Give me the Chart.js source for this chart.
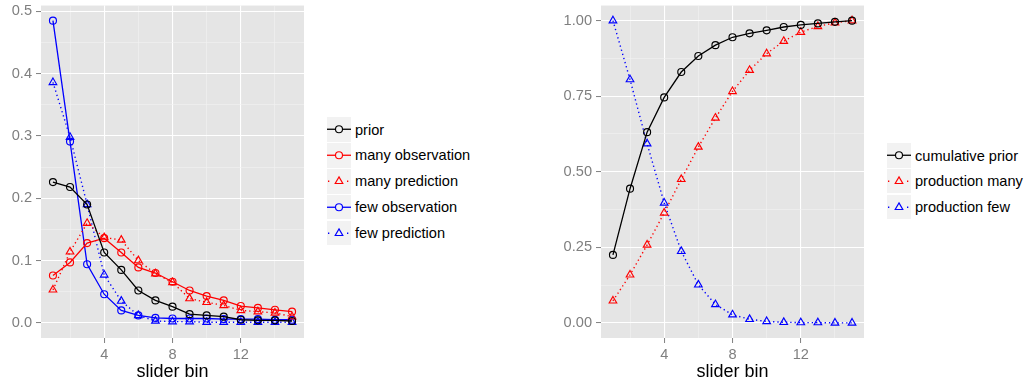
<!DOCTYPE html>
<html>
<head>
<meta charset="utf-8">
<script src="https://cdn.jsdelivr.net/npm/chart.js@4.4.0/dist/chart.umd.min.js"></script>
<style>
  html, body { margin: 0; padding: 0; background: #fff; }
  body { width: 1027px; height: 383px; position: relative; overflow: hidden; font-family: "Liberation Sans", Arial, sans-serif; }
  .cw { position: absolute; top: 0; height: 383px; }
  .legend-row { position: absolute; height: 25px; display: flex; align-items: center; }
  .key { width: 24px; height: 24.5px; background: #F2F2F2; }
  .key svg { display: block; }
  .lbl { margin-left: 4px; font-size: 14.6px; color: #000; white-space: nowrap; }
</style>
</head>
<body>
<div class="cw" style="left:0px;width:320px;"><canvas id="left"></canvas></div>
<div class="cw" style="left:555px;width:325px;"><canvas id="right"></canvas></div>
<div id="legendLeft"></div>
<div id="legendRight"></div>
<script>
// ---- data ----
const bins = [1, 2, 3, 4, 5, 6, 7, 8, 9, 10, 11, 12, 13, 14, 15];
const prior           = [0.226, 0.218, 0.190, 0.113, 0.085, 0.052, 0.036, 0.026, 0.014, 0.012, 0.010, 0.005, 0.004, 0.004, 0.003];
const manyObservation = [0.076, 0.097, 0.128, 0.136, 0.113, 0.089, 0.080, 0.066, 0.052, 0.043, 0.036, 0.027, 0.024, 0.021, 0.018];
const manyPrediction  = [0.053, 0.114, 0.160, 0.137, 0.133, 0.100, 0.079, 0.065, 0.039, 0.033, 0.028, 0.020, 0.018, 0.016, 0.010];
const fewObservation  = [0.485, 0.291, 0.094, 0.046, 0.020, 0.012, 0.008, 0.007, 0.007, 0.007, 0.006, 0.006, 0.006, 0.005, 0.005];
const fewPrediction   = [0.386, 0.298, 0.190, 0.077, 0.035, 0.012, 0.003, 0.002, 0.002, 0.001, 0.001, 0.001, 0.001, 0.001, 0.001];

const cumulativePrior = [0.225, 0.444, 0.631, 0.746, 0.830, 0.883, 0.919, 0.945, 0.958, 0.968, 0.979, 0.986, 0.991, 0.996, 1.000];
const productionMany  = [0.073, 0.159, 0.258, 0.364, 0.475, 0.582, 0.678, 0.766, 0.836, 0.891, 0.932, 0.962, 0.981, 0.993, 1.000];
const productionFew   = [1.000, 0.805, 0.593, 0.397, 0.237, 0.126, 0.061, 0.027, 0.012, 0.005, 0.002, 0.001, 0.001, 0.000, 0.000];

const xTicks = [2, 4, 6, 8, 10, 12, 14];
const yTicksLeft = [0, 0.05, 0.1, 0.15, 0.2, 0.25, 0.3, 0.35, 0.4, 0.45, 0.5];
const yTicksRight = [0, 0.125, 0.25, 0.375, 0.5, 0.625, 0.75, 0.875, 1.0];

const leftSeries = [
  { label: 'prior', values: prior, color: '#000000', dotted: false, shape: 'circle' },
  { label: 'many observation', values: manyObservation, color: '#FF0000', dotted: false, shape: 'circle' },
  { label: 'many prediction', values: manyPrediction, color: '#FF0000', dotted: true, shape: 'triangle' },
  { label: 'few observation', values: fewObservation, color: '#0000FF', dotted: false, shape: 'circle' },
  { label: 'few prediction', values: fewPrediction, color: '#0000FF', dotted: true, shape: 'triangle' }
];
const rightSeries = [
  { label: 'cumulative prior', values: cumulativePrior, color: '#000000', dotted: false, shape: 'circle' },
  { label: 'production many', values: productionMany, color: '#FF0000', dotted: true, shape: 'triangle' },
  { label: 'production few', values: productionFew, color: '#0000FF', dotted: true, shape: 'triangle' }
];

const FONT = '"Liberation Sans", Arial, sans-serif';
const TICKCOL = '#7F7F7F';

const panelBg = {
  id: 'panelBg',
  beforeDraw(chart) {
    const a = chart.chartArea, c = chart.ctx;
    c.save(); c.fillStyle = '#E5E5E5';
    c.fillRect(a.left, a.top, a.right - a.left, a.bottom - a.top);
    c.restore();
  }
};

function makeDatasets(series) {
  return series.map(s => ({
    label: s.label,
    data: bins.map((b, i) => ({ x: b, y: s.values[i] })),
    borderColor: s.color,
    backgroundColor: 'rgba(0,0,0,0)',
    borderWidth: s.dotted ? 1.4 : 1.3,
    borderDash: s.dotted ? [1.3, 3] : [],
    pointStyle: s.shape,
    pointRadius: s.shape === 'triangle' ? 4.4 : 3.5,
    pointBorderWidth: 1.15,
    pointBorderColor: s.color,
    pointBackgroundColor: 'rgba(0,0,0,0)',
    pointHoverRadius: 4,
    tension: 0,
    showLine: true,
    fill: false
  }));
}

function makeChart(id, series, yMin, yMax, yTicks, isMajorY, fmtY, yWidth) {
  const isMajorX = v => v % 4 === 0;
  return new Chart(document.getElementById(id), {
    type: 'scatter',
    data: { datasets: makeDatasets(series) },
    plugins: [panelBg],
    options: {
      responsive: true,
      maintainAspectRatio: false,
      animation: false,
      layout: { padding: { top: 5, right: 16, bottom: 0, left: 0 } },
      plugins: { legend: { display: false }, tooltip: { enabled: false } },
      scales: {
        x: {
          type: 'linear', min: 0.3, max: 15.7,
          afterBuildTicks: s => { s.ticks = xTicks.map(v => ({ value: v })); },
          afterFit: s => { s.height = 45; s.paddingLeft = 0; s.paddingRight = 0; },
          border: { display: false },
          grid: {
            color: ctx => isMajorX(ctx.tick.value) ? '#FFFFFF' : '#F2F2F2',
            lineWidth: ctx => isMajorX(ctx.tick.value) ? 1.1 : 0.6,
            tickColor: ctx => isMajorX(ctx.tick.value) ? TICKCOL : 'rgba(0,0,0,0)',
            tickLength: 5, tickWidth: 1
          },
          ticks: {
            autoSkip: false, maxRotation: 0, padding: 3,
            color: TICKCOL, font: { family: FONT, size: 14.6 },
            callback: v => isMajorX(v) ? String(v) : ''
          },
          title: { display: true, text: 'slider bin', color: '#000', font: { family: FONT, size: 18 }, padding: { top: 0, bottom: 0 } }
        },
        y: {
          type: 'linear', min: yMin, max: yMax,
          afterBuildTicks: s => { s.ticks = yTicks.map(v => ({ value: v })); },
          afterFit: s => { s.width = yWidth; s.paddingTop = 0; s.paddingBottom = 0; },
          border: { display: false },
          grid: {
            color: ctx => isMajorY(ctx.tick.value) ? '#FFFFFF' : '#F2F2F2',
            lineWidth: ctx => isMajorY(ctx.tick.value) ? 1.1 : 0.6,
            tickColor: ctx => isMajorY(ctx.tick.value) ? TICKCOL : 'rgba(0,0,0,0)',
            tickLength: 5, tickWidth: 1
          },
          ticks: {
            autoSkip: false, padding: 4,
            color: TICKCOL, font: { family: FONT, size: 14.6 },
            callback: v => isMajorY(v) ? fmtY(v) : ''
          }
        }
      }
    }
  });
}

const near = (a, b) => Math.abs(a - b) < 1e-6;
makeChart('left', leftSeries, -0.0243, 0.5093, yTicksLeft,
  v => near(v * 10, Math.round(v * 10)), v => v.toFixed(1), 41);
makeChart('right', rightSeries, -0.05, 1.05, yTicksRight,
  v => near(v * 4, Math.round(v * 4)), v => v.toFixed(2), 46);

// ---- legends ----
function keySvg(s) {
  const w = 24, h = 24.5, cy = h / 2;
  let line, mark;
  if (s.dotted) {
    line = `<line x1="1" y1="${cy}" x2="5" y2="${cy}" stroke="${s.color}" stroke-width="1.4" stroke-dasharray="1.3,3"/>` +
           `<line x1="20" y1="${cy}" x2="24" y2="${cy}" stroke="${s.color}" stroke-width="1.4" stroke-dasharray="1.3,3"/>`;
  } else {
    line = `<line x1="0" y1="${cy}" x2="24" y2="${cy}" stroke="${s.color}" stroke-width="1.3"/>`;
  }
  mark = s.shape === 'circle'
    ? `<circle cx="12" cy="${cy}" r="3.5" fill="#F2F2F2" stroke="${s.color}" stroke-width="1.15"/>`
    : `<polygon points="12,${cy - 4.4} ${12 + 3.81},${cy + 2.2} ${12 - 3.81},${cy + 2.2}" fill="#F2F2F2" stroke="${s.color}" stroke-width="1.15"/>`;
  return `<svg width="${w}" height="${h}">${line}${mark}</svg>`;
}
function buildLegend(elId, series, left, top, step) {
  const el = document.getElementById(elId);
  el.innerHTML = series.map((s, i) =>
    `<div class="legend-row" style="left:${left}px;top:${top + i * step}px;">` +
    `<div class="key">${keySvg(s)}</div><span class="lbl">${s.label}</span></div>`).join('');
}
buildLegend('legendLeft', leftSeries, 327, 117, 25.9);
buildLegend('legendRight', rightSeries, 887, 143, 25.7);
</script>
</body>
</html>
